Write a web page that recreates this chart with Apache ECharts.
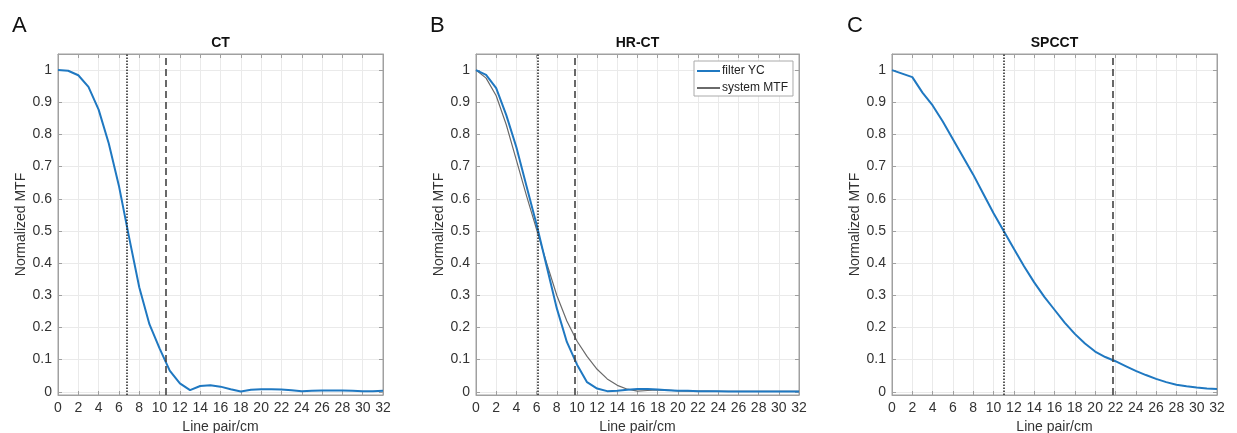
<!DOCTYPE html>
<html>
<head>
<meta charset="utf-8">
<script src="https://cdn.jsdelivr.net/npm/echarts@6/dist/echarts.min.js"></script>
<style>
html,body{margin:0;padding:0;background:#fff;}
#chart{width:1237px;height:433px;}
</style>
</head>
<body>
<div id="chart"></div>
<script>
// ---- data ----
var panelLetters = ['A', 'B', 'C'];
var panelTitles = ['CT', 'HR-CT', 'SPCCT'];
var lpValues = [0,1,2,3,4,5,6,7,8,9,10,11,12,13,14,15,16,17,18,19,20,21,22,23,24,25,26,27,28,29,30,31,32];
var ctMTF = [1.0,0.998,0.984,0.948,0.877,0.772,0.64,0.48,0.325,0.21,0.135,0.066,0.026,0.005,0.018,0.02,0.016,0.008,0.001,0.006,0.008,0.008,0.007,0.005,0.002,0.003,0.004,0.004,0.004,0.003,0.002,0.002,0.003];
var hrctFilterYC = [1.0,0.985,0.944,0.86,0.76,0.64,0.52,0.39,0.26,0.155,0.085,0.03,0.01,0.002,0.003,0.006,0.009,0.009,0.007,0.005,0.003,0.003,0.002,0.002,0.002,0.001,0.001,0.001,0.001,0.001,0.001,0.001,0.001];
var hrctSystemMTF = [1.0,0.975,0.92,0.83,0.72,0.61,0.505,0.40,0.30,0.22,0.158,0.11,0.07,0.04,0.02,0.008,0.002,0.004,0.006,0.005,0.003,0.002,0.002,0.002,0.001,0.001,0.001,0.001,0.001,0.001,0.001,0.001,0.001];
var spcctMTF = [1.0,0.989,0.978,0.93,0.89,0.84,0.785,0.73,0.675,0.615,0.555,0.5,0.445,0.39,0.34,0.295,0.255,0.215,0.18,0.15,0.125,0.108,0.095,0.08,0.065,0.052,0.04,0.03,0.022,0.017,0.013,0.01,0.009];
var mtf50 = [6.8, 6.1, 11.0];   // dotted lines
var mtf10 = [10.6, 9.8, 21.7];  // dashed lines
var yTicks = [0,0.1,0.2,0.3,0.4,0.5,0.6,0.7,0.8,0.9,1];
var xTickInterval = 2;
var xMax = 32;
var yMin = -0.01, yMax = 1.05;

function pairs(xs, ys) { return xs.map(function (x, i) { return [x, ys[i]]; }); }

// ---- layout ----
var plotBoxes = [
  {l: 58, r: 383},
  {l: 476, r: 799},
  {l: 892, r: 1217}
];
var W = 1237, H = 433, TOP = 54, BOTTOM = 395;
var FONT = '"Liberation Sans", Arial, Helvetica, sans-serif';
var frameColor = '#a0a0a0';
var gridColor = '#eaeaea';
var labelColor = '#333';

var grids = [], xAxes = [], yAxes = [], series = [], graphics = [];

plotBoxes.forEach(function (b, i) {
  grids.push({left: b.l, right: W - b.r, top: TOP, bottom: H - BOTTOM,
    outerBoundsMode: 'none', containLabel: false,
    show: true, borderColor: frameColor, borderWidth: 1, backgroundColor: '#fff'});
  // bottom x
  xAxes.push({type: 'value', gridIndex: i, min: 0, max: xMax, interval: xTickInterval,
    name: 'Line pair/cm', nameLocation: 'middle', nameGap: 23,
    nameTextStyle: {fontFamily: FONT, fontSize: 14, color: labelColor},
    axisLine: {show: true, onZero: false, lineStyle: {color: frameColor}},
    axisTick: {show: true, inside: true, length: 4, lineStyle: {color: frameColor}},
    axisLabel: {fontFamily: FONT, fontSize: 14, color: labelColor, margin: 6},
    splitLine: {show: true, lineStyle: {color: gridColor, width: 1}}
  });
  // top x (ticks only)
  xAxes.push({type: 'value', gridIndex: i, position: 'top', min: 0, max: xMax, interval: xTickInterval,
    axisLine: {show: true, onZero: false, lineStyle: {color: frameColor}},
    axisTick: {show: true, inside: true, length: 4, lineStyle: {color: frameColor}},
    axisLabel: {show: false}, splitLine: {show: false}
  });
  // left y
  yAxes.push({type: 'value', gridIndex: i, min: yMin, max: yMax,
    name: 'Normalized MTF', nameLocation: 'middle', nameGap: 22,
    nameTextStyle: {fontFamily: FONT, fontSize: 14, color: labelColor},
    axisLine: {show: true, onZero: false, lineStyle: {color: frameColor}},
    axisTick: {show: true, inside: true, length: 4, customValues: yTicks, lineStyle: {color: frameColor}},
    axisLabel: {fontFamily: FONT, fontSize: 14, color: labelColor, margin: 6, customValues: yTicks,
      formatter: function (v) { return String(Math.round(v * 10) / 10); }},
    splitLine: {show: true, lineStyle: {color: gridColor, width: 1}}
  });
  // right y (ticks only)
  yAxes.push({type: 'value', gridIndex: i, position: 'right', min: yMin, max: yMax,
    axisLine: {show: true, onZero: false, lineStyle: {color: frameColor}},
    axisTick: {show: true, inside: true, length: 4, customValues: yTicks, lineStyle: {color: frameColor}},
    axisLabel: {show: false, customValues: yTicks}, splitLine: {show: false}
  });

  graphics.push({type: 'text', left: [12, 430, 847][i], top: 15,
    style: {text: panelLetters[i], font: '22px ' + FONT, fill: '#111'}});
  graphics.push({type: 'text', x: (b.l + b.r) / 2, y: 43,
    style: {text: panelTitles[i], font: 'bold 14px ' + FONT, fill: '#111', align: 'center', verticalAlign: 'middle'}});
});

var blue = '#1f78c1';
function refLines(i) {
  return {
    silent: true, symbol: 'none', label: {show: false},
    data: [
      {xAxis: mtf50[i], lineStyle: {color: '#222', type: [1.5, 1.5], width: 1.5}},
      {xAxis: mtf10[i], lineStyle: {color: '#444', type: [7, 4], width: 1.6}}
    ]
  };
}

series.push({name: 'CT', type: 'line', xAxisIndex: 0, yAxisIndex: 0, data: pairs(lpValues, ctMTF),
  symbol: 'none', lineStyle: {color: blue, width: 2}, itemStyle: {color: blue}, markLine: refLines(0), z: 3});
series.push({name: 'system MTF', type: 'line', xAxisIndex: 2, yAxisIndex: 2, data: pairs(lpValues, hrctSystemMTF),
  symbol: 'none', lineStyle: {color: '#6a6a6a', width: 1.2}, itemStyle: {color: '#6a6a6a'}, markLine: refLines(1), z: 3});
series.push({name: 'filter YC', type: 'line', xAxisIndex: 2, yAxisIndex: 2, data: pairs(lpValues, hrctFilterYC),
  symbol: 'none', lineStyle: {color: blue, width: 2}, itemStyle: {color: blue}, z: 4});
series.push({name: 'SPCCT', type: 'line', xAxisIndex: 4, yAxisIndex: 4, data: pairs(lpValues, spcctMTF),
  symbol: 'none', lineStyle: {color: blue, width: 2}, itemStyle: {color: blue}, markLine: refLines(2), z: 3});

var chart = echarts.init(document.getElementById('chart'), null, {renderer: 'canvas'});
chart.setOption({
  animation: false,
  backgroundColor: '#fff',
  grid: grids,
  xAxis: xAxes,
  yAxis: yAxes,
  legend: {
    data: [{name: 'filter YC'}, {name: 'system MTF'}],
    left: 694, top: 61, orient: 'vertical',
    icon: 'rect', itemWidth: 23, itemHeight: 2, itemGap: 5,
    padding: [4, 5, 2, 3],
    backgroundColor: '#fff', borderColor: '#aaa', borderWidth: 1,
    textStyle: {fontFamily: FONT, fontSize: 12, color: '#222', padding: [0, 0, 0, -3]},
    selectedMode: false
  },
  graphic: graphics,
  series: series
});
</script>
</body>
</html>
